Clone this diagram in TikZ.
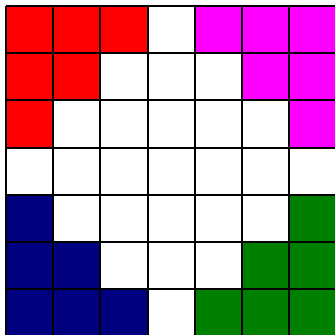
\documentclass[tikz,border=0pt]{standalone}
\usepackage{xcolor}
\definecolor{cellred}{HTML}{FF0000}
\definecolor{cellmag}{HTML}{FF00FF}
\definecolor{cellnavy}{HTML}{000080}
\definecolor{cellgreen}{HTML}{008000}
\definecolor{cellwhite}{HTML}{FFFFFF}

\begin{document}
\begin{tikzpicture}[x=1cm,y=-1cm,
  gridline/.style={draw=black,line width=1.1pt}]
  \useasboundingbox (-0.127,-0.127) rectangle (6.97,6.949);
  % cells, row by row from the top
  \foreach \row [count=\r from 0] in {
      {cellred,cellred,cellred,cellwhite,cellmag,cellmag,cellmag},
      {cellred,cellred,cellwhite,cellwhite,cellwhite,cellmag,cellmag},
      {cellred,cellwhite,cellwhite,cellwhite,cellwhite,cellwhite,cellmag},
      {cellwhite,cellwhite,cellwhite,cellwhite,cellwhite,cellwhite,cellwhite},
      {cellnavy,cellwhite,cellwhite,cellwhite,cellwhite,cellwhite,cellgreen},
      {cellnavy,cellnavy,cellwhite,cellwhite,cellwhite,cellgreen,cellgreen},
      {cellnavy,cellnavy,cellnavy,cellwhite,cellgreen,cellgreen,cellgreen}}{
    \foreach \col [count=\c from 0] in \row
      \fill[fill=\col] (\c,\r) rectangle ++(1,1);
  }
  \draw[gridline] (0,0) grid (7,7);
\end{tikzpicture}
\end{document}
